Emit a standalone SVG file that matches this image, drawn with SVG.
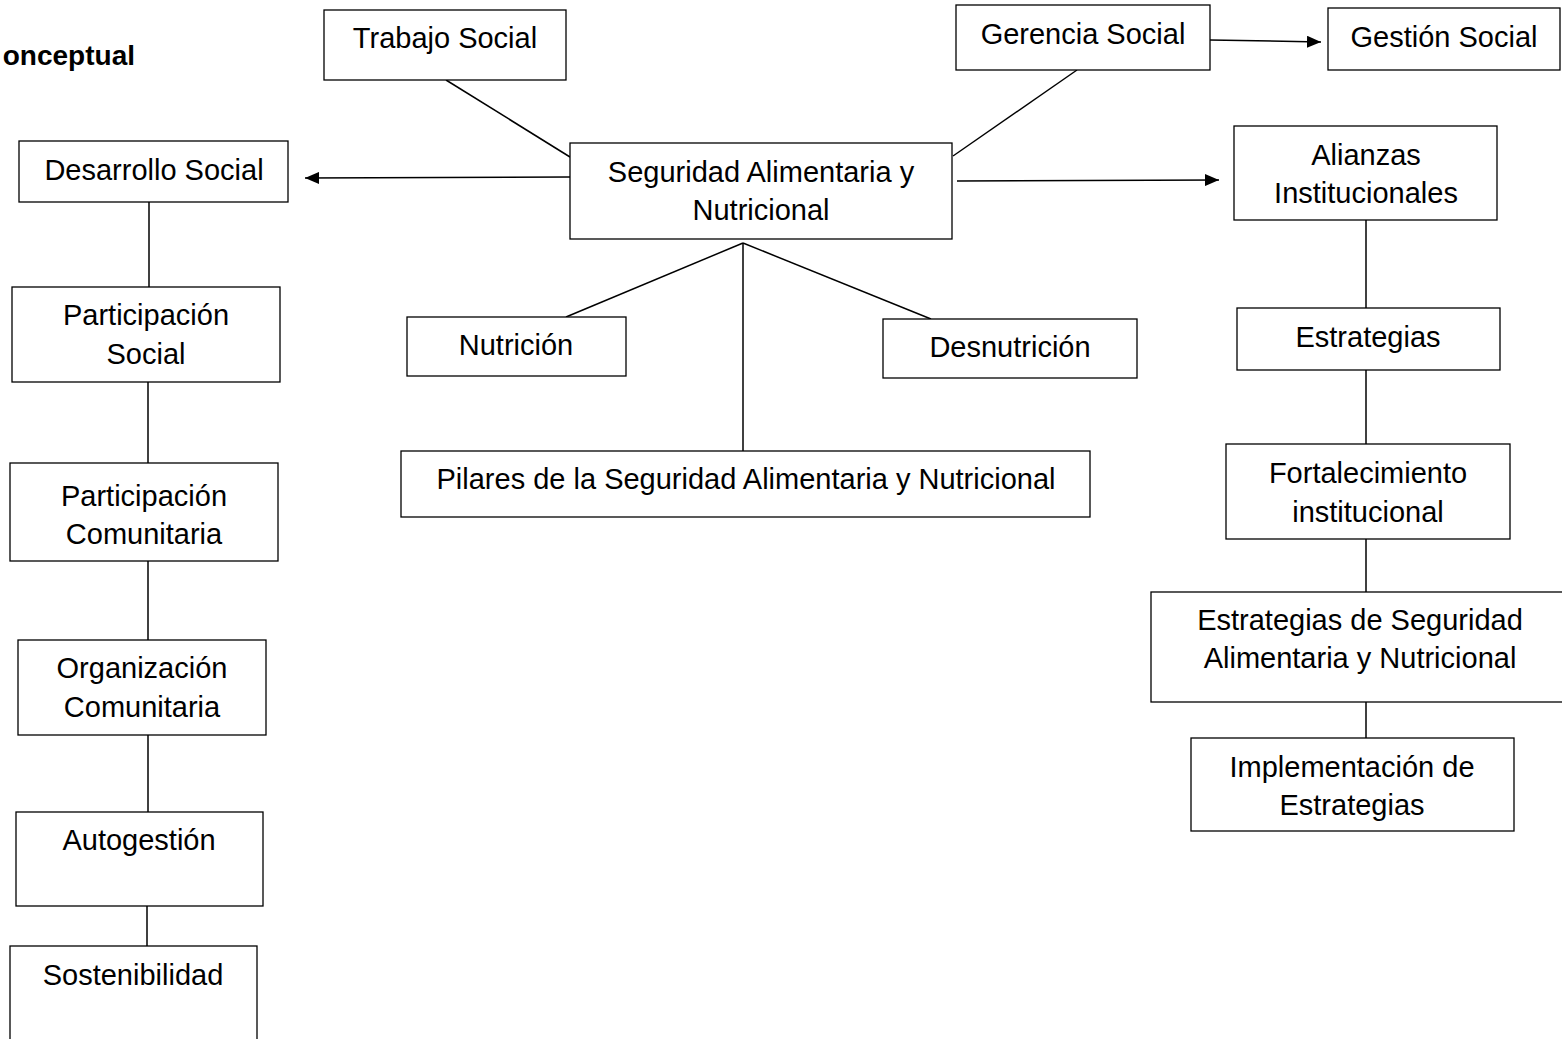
<svg xmlns="http://www.w3.org/2000/svg" width="1562" height="1039" viewBox="0 0 1562 1039">
<style>
.box{fill:#fff;stroke:#000;stroke-width:1.3}
.t{font-family:"Liberation Sans",Arial,sans-serif;font-size:29px;fill:#000;text-anchor:middle}
.ttl{font-family:"Liberation Sans",Arial,sans-serif;font-size:28px;font-weight:bold;fill:#000;text-anchor:end}
.c{stroke:#000;stroke-width:1.5;fill:none}
</style>
<defs>
<marker id="ah" markerWidth="14" markerHeight="12" refX="14" refY="6" orient="auto" markerUnits="userSpaceOnUse">
<path d="M0,0 L14,6 L0,12 Z" fill="#000"/>
</marker>
</defs>
<rect width="1562" height="1039" fill="#fff"/>
<text class="ttl" x="135" y="65">onceptual</text>
<g id="connectors">
<line class="c" x1="570" y1="177" x2="305" y2="178" marker-end="url(#ah)"/>
<line class="c" x1="957" y1="181" x2="1219" y2="180" marker-end="url(#ah)"/>
<line class="c" x1="1210" y1="40" x2="1321" y2="42" marker-end="url(#ah)"/>
<line class="c" x1="446" y1="80" x2="570" y2="157"/>
<line class="c" x1="1077" y1="70" x2="953" y2="156"/>
<line class="c" x1="743" y1="243" x2="566" y2="317"/>
<line class="c" x1="743" y1="243" x2="743" y2="451"/>
<line class="c" x1="743" y1="243" x2="931" y2="319"/>
<line class="c" x1="149" y1="202" x2="149" y2="287"/>
<line class="c" x1="148" y1="382" x2="148" y2="463"/>
<line class="c" x1="148" y1="561" x2="148" y2="640"/>
<line class="c" x1="148" y1="735" x2="148" y2="812"/>
<line class="c" x1="147" y1="906" x2="147" y2="946"/>
<line class="c" x1="1366" y1="220" x2="1366" y2="308"/>
<line class="c" x1="1366" y1="370" x2="1366" y2="444"/>
<line class="c" x1="1366" y1="539" x2="1366" y2="592"/>
<line class="c" x1="1366" y1="702" x2="1366" y2="738"/>
</g>
<g id="trabajo"><rect class="box" x="324" y="10" width="242" height="70"/><text class="t" x="445" y="48">Trabajo Social</text></g>
<g id="gerencia"><rect class="box" x="956" y="5" width="254" height="65"/><text class="t" x="1083" y="44">Gerencia Social</text></g>
<g id="gestion"><rect class="box" x="1328" y="8" width="232" height="62"/><text class="t" x="1444" y="47">Gestión Social</text></g>
<g id="seguridad"><rect class="box" x="570" y="143" width="382" height="96"/><text class="t" x="761" y="182">Seguridad Alimentaria y</text><text class="t" x="761" y="220">Nutricional</text></g>
<g id="desarrollo"><rect class="box" x="19" y="141" width="269" height="61"/><text class="t" x="154" y="180">Desarrollo Social</text></g>
<g id="alianzas"><rect class="box" x="1234" y="126" width="263" height="94"/><text class="t" x="1366" y="165">Alianzas</text><text class="t" x="1366" y="203">Institucionales</text></g>
<g id="nutricion"><rect class="box" x="407" y="317" width="219" height="59"/><text class="t" x="516" y="355">Nutrición</text></g>
<g id="desnutricion"><rect class="box" x="883" y="319" width="254" height="59"/><text class="t" x="1010" y="357">Desnutrición</text></g>
<g id="pilares"><rect class="box" x="401" y="451" width="689" height="66"/><text class="t" x="746" y="489">Pilares de la Seguridad Alimentaria y Nutricional</text></g>
<g id="participacion-social"><rect class="box" x="12" y="287" width="268" height="95"/><text class="t" x="146" y="325">Participación</text><text class="t" x="146" y="364">Social</text></g>
<g id="participacion-comunitaria"><rect class="box" x="10" y="463" width="268" height="98"/><text class="t" x="144" y="506">Participación</text><text class="t" x="144" y="544">Comunitaria</text></g>
<g id="organizacion"><rect class="box" x="18" y="640" width="248" height="95"/><text class="t" x="142" y="678">Organización</text><text class="t" x="142" y="717">Comunitaria</text></g>
<g id="autogestion"><rect class="box" x="16" y="812" width="247" height="94"/><text class="t" x="139" y="850">Autogestión</text></g>
<g id="sostenibilidad"><rect class="box" x="10" y="946" width="247" height="100"/><text class="t" x="133" y="985">Sostenibilidad</text></g>
<g id="estrategias"><rect class="box" x="1237" y="308" width="263" height="62"/><text class="t" x="1368" y="347">Estrategias</text></g>
<g id="fortalecimiento"><rect class="box" x="1226" y="444" width="284" height="95"/><text class="t" x="1368" y="483">Fortalecimiento</text><text class="t" x="1368" y="522">institucional</text></g>
<g id="estrategias-san"><rect class="box" x="1151" y="592" width="415" height="110"/><text class="t" x="1360" y="630">Estrategias de Seguridad</text><text class="t" x="1360" y="668">Alimentaria y Nutricional</text></g>
<g id="implementacion"><rect class="box" x="1191" y="738" width="323" height="93"/><text class="t" x="1352" y="777">Implementación de</text><text class="t" x="1352" y="815">Estrategias</text></g>
</svg>
